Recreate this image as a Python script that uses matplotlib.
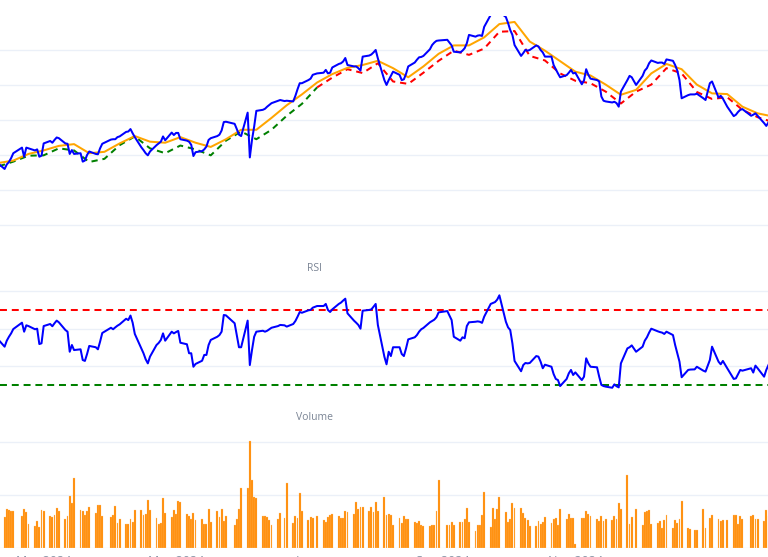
import matplotlib
matplotlib.use("Agg")
import matplotlib.pyplot as plt
import pandas as pd

plt.rcParams['font.family'] = ['Open Sans', 'DejaVu Sans']
plt.rcParams['lines.scale_dashes'] = False

# Trading calendar (US market days)
holidays = ['2024-02-19', '2024-03-29', '2024-05-27', '2024-06-19', '2024-07-04',
            '2024-09-02', '2024-11-28', '2024-12-25', '2025-01-01', '2025-01-09',
            '2025-01-20']
dates = pd.bdate_range('2024-02-09', '2025-01-29', freq='C', holidays=holidays)

# Close price, one row per week
close = [117.6,
         116.0, 117.3, 118.0, 119.1, 120.5,
         122.1, 119.5, 122.1, 121.9,
         121.3, 121.6, 119.5, 119.8, 123.3,
         124.0, 123.5, 124.3, 125.0, 124.8,
         123.3, 123.2, 120.3, 121.4, 120.3,
         120.5, 118.1, 118.4, 120.0, 121.0,
         120.3, 120.2, 121.9, 123.2,
         124.4, 124.5, 124.5, 125.1, 125.3,
         126.6, 126.7, 127.4, 126.2, 125.1,
         122.2, 121.4, 120.5, 119.9, 121.0,
         122.8, 123.3, 123.8, 125.3, 124.2,
         126.4, 125.7, 126.3, 126.3, 124.5,
         124.1, 123.8, 122.9, 119.7, 120.8,
         121.1, 121.6, 122.4, 124.3, 124.8,
         125.4, 125.8, 127.0, 129.4, 129.5,
         128.9, 127.4, 125.8, 125.4,
         132.1, 119.3, 124.3, 128.1, 132.6,
         132.9, 133.2, 133.8, 134.3, 134.8,
         135.5, 135.7, 135.4, 135.5,
         135.3, 136.9, 138.8, 140.5, 140.5,
         141.4, 141.8, 142.9, 143.3,
         143.5, 144.3, 143.3, 143.5, 145.0,
         146.0, 146.2, 146.7, 147.7, 145.7,
         145.3, 145.3, 144.8, 144.1, 148.1,
         148.4, 148.7, 149.3, 150.0, 147.6,
         141.4, 140.0, 141.4, 142.6, 143.8,
         142.9, 141.4, 141.6, 143.2, 145.3,
         146.4, 147.2, 147.9, 148.0, 148.3,
         150.2, 151.4, 152.1, 152.6, 152.7,
         152.9, 152.1, 151.3, 149.5,
         149.3, 149.8, 150.5, 151.9, 154.3,
         153.8, 154.1, 154.2, 154.0, 156.6,
         160.0, 161.4, 162.0, 161.4, 160.9,
         159.4, 157.7, 155.7, 154.3, 151.4,
         148.3, 149.1, 150.0, 149.8, 150.0,
         151.3, 151.0, 150.0, 149.3, 148.1,
         148.1, 145.7, 144.5, 143.3, 142.2,
         142.8, 143.5, 144.3, 143.3, 143.5,
         140.2, 141.3, 144.5, 142.9, 141.8,
         141.4, 141.0, 136.7, 135.5, 135.3,
         135.0, 135.2, 134.8, 133.8, 138.1,
         141.4, 142.6, 142.2, 140.0,
         142.6, 144.1, 144.8, 146.2, 147.0,
         146.3, 146.4, 146.4, 146.0, 147.3,
         146.9, 145.7, 144.1, 141.4, 136.2,
         137.1, 137.3, 137.3, 137.5,
         136.2, 135.7, 140.5, 141.0,
         136.4, 136.9, 136.1, 133.8,
         131.1, 131.5, 132.3, 132.9, 133.1,
         131.2, 131.5, 131.9, 131.2,
         129.1, 128.3, 129.3]

# Moving averages read once a week (Fridays)
ma_dates = pd.date_range('2024-02-09', periods=52, freq='W-FRI')
sma = [117.7, 118.4, 120.3, 121.3, 122.6, 123.1, 120.5, 120.9, 123.3, 125.4,
       123.8, 123.5, 125.1, 123.5, 122.3, 124.5, 127.2, 127.2, 130.6, 134.2,
       137.3, 140.7, 143.1, 144.9, 145.7, 146.9, 144.8, 142.2, 145.3, 148.9,
       151.3, 151.3, 153.6, 157.4, 158.0, 152.4, 149.8, 146.8, 143.8, 142.7,
       140.1, 137.2, 138.6, 143.3, 146.0, 144.5, 140.1, 137.6, 137.4, 133.8,
       131.9, 131.0]
slow_ma = [116.7, 118.1, 119.8, 119.9, 121.9, 121.3, 118.0, 118.9, 122.8, 125.3,
           121.9, 120.5, 122.7, 121.6, 119.9, 124.1, 126.7, 124.5, 127.2, 131.2,
           134.6, 139.3, 142.1, 144.5, 143.4, 146.2, 141.0, 140.3, 143.5, 146.9,
           149.8, 148.6, 150.4, 155.2, 155.4, 148.3, 147.0, 143.3, 141.2, 140.5,
           138.1, 134.7, 138.1, 140.1, 144.8, 143.3, 138.0, 136.0, 136.5, 132.9,
           130.8, 129.4]
split = 21  # dashed line turns from green to red here

rsi = [54.2,
       50.3, 53.5, 55.6, 57.4, 59.7,
       63.1, 58.3, 61.7, 61.3,
       59.6, 59.9, 51.7, 52.1, 61.3,
       62.4, 61.2, 62.8, 64.2, 63.3,
       59.2, 58.3, 47.6, 51.2, 48.5,
       48.9, 43.2, 42.7, 46.4, 50.7,
       50.0, 48.9, 53.0, 57.6,
       60.4, 59.6, 60.6, 61.5, 62.2,
       65.2, 64.5, 66.9, 63.1, 57.1,
       49.4, 46.8, 43.6, 41.4, 45.0,
       51.2, 52.3, 53.9, 57.4, 53.5,
       58.3, 57.4, 58.1, 58.7, 52.4,
       51.6, 46.8, 46.8, 39.6, 41.1,
       42.8, 45.9, 45.9, 51.2, 53.9,
       55.6, 56.5, 58.3, 67.2, 67.0,
       62.8, 56.5, 50.0, 50.0,
       64.2, 40.5, 48.5, 55.6, 58.3,
       58.8, 58.3, 58.8, 59.6, 60.4,
       61.3, 61.9, 61.7, 61.0,
       62.4, 64.0, 66.3, 68.8, 68.4,
       69.7, 69.9, 71.1, 72.0,
       72.0, 73.1, 69.9, 68.8, 70.2,
       73.1, 73.8, 74.9, 75.9, 68.1,
       64.2, 63.1, 61.9, 59.9, 69.5,
       69.9, 70.2, 71.6, 73.1, 61.9,
       45.0, 40.9, 47.6, 45.3, 50.0,
       50.0, 46.4, 45.3, 49.4, 54.2,
       55.3, 56.5, 58.3, 59.6, 60.3,
       63.3, 64.0, 64.7, 66.0, 68.6,
       69.3, 66.9, 64.5, 55.6,
       53.5, 55.3, 54.8, 61.3, 63.3,
       63.6, 63.8, 63.6, 63.0, 66.3,
       73.1, 73.6, 74.1, 75.4, 77.7,
       63.6, 60.6, 59.2, 52.1, 42.7,
       37.2, 40.5, 41.6, 41.4, 41.6,
       45.3, 45.0, 42.3, 38.8, 40.7,
       39.6, 35.7, 33.1, 32.5, 29.3,
       33.1, 36.1, 37.9, 35.2, 36.6,
       32.5, 34.3, 44.1, 41.4, 39.6,
       39.3, 34.3, 29.9, 29.3, 29.0,
       28.4, 30.2, 29.2, 28.6, 41.4,
       49.4, 50.0, 51.0, 47.6,
       50.3, 53.5, 55.3, 57.8, 59.9,
       58.5, 58.1, 57.8, 57.1, 58.3,
       56.5, 51.2, 46.8, 42.3, 34.0,
       37.9, 38.1, 38.2, 39.6,
       37.5, 37.0, 43.2, 50.3,
       42.3, 40.9, 42.7, 38.8,
       33.1, 33.4, 35.7, 37.9, 37.5,
       38.8, 36.5, 40.2, 38.8,
       34.3, 37.9, 40.5]

# Volume in millions
volume = [14.0,
          11.6, 14.8, 14.4, 13.8, 13.8,
          11.9, 14.8, 13.6, 9.0,
          8.3, 10.1, 8.1, 14.4, 14.0,
          12.0, 11.7, 12.5, 15.1, 14.0,
          11.0, 11.9, 19.7, 16.9, 26.5,
          14.4, 13.8, 12.5, 14.0, 15.5,
          13.1, 16.3, 16.3, 12.0,
          11.6, 12.4, 15.9, 9.6, 11.0,
          9.1, 9.2, 11.0, 10.0, 14.3,
          14.3, 12.5, 13.0, 18.2, 14.4,
          11.2, 9.2, 9.5, 18.9, 13.1,
          11.7, 14.4, 13.0, 17.8, 17.4,
          12.9, 11.9, 11.1, 13.1, 10.6,
          11.1, 9.1, 9.1, 14.8, 9.7,
          13.9, 11.6, 14.8, 10.3, 12.0,
          8.7, 10.9, 14.9, 22.8,
          22.7, 40.2, 25.6, 19.3, 19.0,
          12.1, 12.1, 11.6, 10.6, 8.8,
          10.9, 13.1, 11.2, 24.6,
          9.6, 11.9, 11.4, 20.6, 14.1,
          10.5, 11.7, 11.5, 11.9,
          10.7, 9.8, 11.6, 12.3, 13.0,
          12.1, 11.2, 11.5, 14.0, 13.6,
          12.9, 17.5, 14.6, 15.6, 15.4,
          14.0, 15.4, 13.4, 17.3, 13.9,
          19.4, 12.5, 12.7, 12.5, 8.6,
          11.2, 9.6, 12.1, 11.0, 10.9,
          9.7, 9.3, 10.2, 8.7, 8.2,
          8.3, 8.8, 8.7, 14.1, 25.6,
          8.8, 8.5, 10.0, 8.6,
          10.0, 9.7, 11.0, 15.0, 9.7,
          6.6, 8.5, 8.6, 12.4, 21.2,
          8.0, 15.2, 10.9, 14.6, 19.4,
          13.5, 9.7, 11.0, 17.0, 15.0,
          15.0, 13.2, 11.5, 10.4, 8.3,
          8.3, 10.2, 8.9, 9.9, 11.6,
          9.4, 10.9, 11.2, 8.5, 14.8,
          10.8, 13.0, 11.4, 11.4, 1.5,
          11.4, 11.4, 13.9, 12.8, 11.9,
          10.9, 10.1, 12.0, 10.1, 11.0,
          10.5, 11.9, 11.0, 16.8, 14.8,
          27.5, 8.9, 11.6, 14.6,
          8.7, 13.5, 13.9, 14.4, 9.0,
          9.3, 10.3, 7.4, 10.6, 12.4,
          7.4, 10.6, 9.3, 11.0, 17.7,
          7.6, 7.1, 6.9, 6.9,
          14.6, 7.6, 11.2, 12.4,
          11.0, 10.3, 10.5, 10.4,
          12.5, 12.4, 9.1, 11.9, 11.0,
          11.9, 12.4, 11.0, 11.0,
          10.2, 14.4, 12.0]

tick_dates = pd.to_datetime(['2024-03-01', '2024-05-01', '2024-07-01',
                             '2024-09-01', '2024-11-01', '2025-01-01'])
tick_labels = ['Mar 2024', 'May 2024', 'Jul 2024', 'Sep 2024', 'Nov 2024', 'Jan 2025']

# Figure: three stacked panels, the picture is a tight crop of the plot area
W, H = 768.0, 557.0
fig = plt.figure(figsize=(W / 100, H / 100), dpi=100)


def panel(top, bottom):
    return fig.add_axes([0, 1 - bottom / H, 1, (bottom - top) / H])


ax1 = panel(16, 246)
ax2 = panel(274, 398)
ax3 = panel(424, 548)

grid_color = '#EBF0F8'
x_left = pd.Timestamp('2024-02-09 21:00')
x_right = pd.Timestamp('2025-01-28 19:00')

for ax in (ax1, ax2, ax3):
    ax.set_facecolor('white')
    for s in ax.spines.values():
        s.set_visible(False)
    ax.yaxis.grid(True, color=grid_color, lw=1.0)
    ax.set_axisbelow(True)
    ax.tick_params(length=0, labelleft=False, labelbottom=False)
    ax.set_xlim(x_left, x_right)
    ax.set_xticks(tick_dates)

# Price panel
ax1.plot(dates, close, color='#0000FF', lw=1.45, zorder=4)
ax1.plot(ma_dates, sma, color='#FFA500', lw=1.45, zorder=3)
ax1.plot(ma_dates[:split + 1], slow_ma[:split + 1], color='#008000', lw=1.45,
         dashes=(4.5, 3.5), zorder=2)
ax1.plot(ma_dates[split:], slow_ma[split:], color='#FF0000', lw=1.45,
         dashes=(4.5, 3.5), zorder=2)
ax1.set_ylim(94.0, 159.7)
ax1.set_yticks([100, 110, 120, 130, 140, 150])

# RSI panel
ax2.plot(dates, rsi, color='#0000FF', lw=1.45, zorder=4)
ax2.axhline(70, color='#FF0000', lw=1.45, dashes=(5, 3.5), zorder=3)
ax2.axhline(30, color='#008000', lw=1.45, dashes=(5, 3.5), zorder=3)
ax2.set_ylim(22.93, 89.07)
ax2.set_yticks([40, 60, 80])

# Volume panel
ax3.bar(dates, volume, width=0.85, color='#FF8A00', edgecolor='#FFC98A',
        linewidth=0.2, zorder=3)
ax3.set_ylim(0, 46.8)
ax3.set_yticks([0, 20, 40])
ax3.set_xticklabels(tick_labels)
ax3.tick_params(labelbottom=True, labelsize=9, labelcolor='#8a96a8', pad=5.3)

# Subplot titles
fig.text(315 / W, 1 - 268 / H, 'RSI', ha='center', va='center',
         fontsize=7.5, color='#7a8494')
fig.text(315 / W, 1 - 418 / H, 'Volume', ha='center', va='center',
         fontsize=7.5, color='#7a8494')

fig.savefig('out.png', dpi=100)
